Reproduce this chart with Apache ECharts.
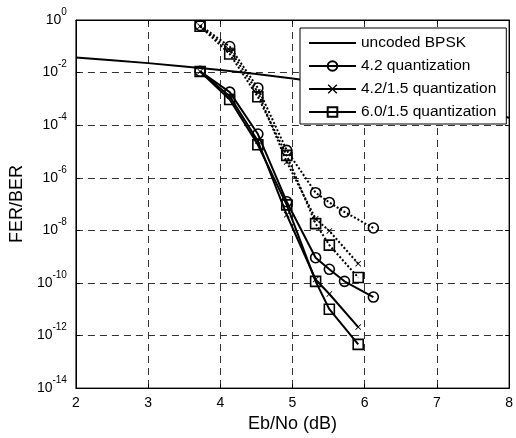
<!DOCTYPE html>
<html>
<head>
<meta charset="utf-8">
<script src="https://cdn.jsdelivr.net/npm/echarts@6/dist/echarts.min.js"></script>
<style>
html,body{margin:0;padding:0;background:#fff;}
#chart{width:516px;height:438px;}
</style>
</head>
<body>
<div id="chart"></div>
<script>
// ---- data ----
const xTicks = [2, 3, 4, 5, 6, 7, 8];
const yTickExps = [0, -2, -4, -6, -8, -10, -12, -14];

const bpskEbNo = [2, 2.5, 3, 3.5, 4, 4.5, 5, 5.5, 6, 6.5, 7, 7.5, 8];
const bpskBer  = [3.75e-2, 2.95e-2, 2.29e-2, 1.72e-2, 1.25e-2, 8.8e-3, 5.95e-3, 3.88e-3, 2.39e-3, 1.39e-3, 7.7e-4, 4.0e-4, 1.9e-4];

const ebnoLong  = [3.72, 4.13, 4.52, 4.92, 5.32, 5.51, 5.72, 6.12];
const ebnoShort = [3.72, 4.13, 4.52, 4.92, 5.32, 5.51, 5.91];

// FER (dotted)
const fer42   = [6.2e-1, 9.8e-2, 2.6e-3, 1.1e-5, 2.7e-7, 1.15e-7, 5.0e-8, 1.23e-8];
const fer4215 = [5.8e-1, 7.2e-2, 1.8e-3, 4.0e-6, 2.75e-8, 9.5e-9, 5.4e-10];
const fer6015 = [5.8e-1, 5.1e-2, 1.2e-3, 7.1e-6, 1.8e-8, 2.75e-9, 1.6e-10];

// BER (solid)
const ber42   = [1.12e-2, 1.8e-3, 4.6e-5, 1.23e-7, 9.1e-10, 3.3e-10, 1.15e-10, 2.9e-11];
const ber4215 = [1.1e-2, 1.26e-3, 2.5e-5, 3.9e-8, 1.35e-10, 3.8e-11, 2.1e-12];
const ber6015 = [1.1e-2, 9.5e-4, 1.8e-5, 9.3e-8, 1.15e-10, 1.0e-11, 4.6e-13];

const names = ['uncoded BPSK', '4.2 quantization', '4.2/1.5 quantization', '6.0/1.5 quantization'];

// ---- build ----
const zip = (xs, ys) => xs.map((x, i) => [x, ys[i]]);
const FONT = 'Liberation Sans, Arial, sans-serif';
const crossPath = 'path://M0,1 L1,0 L5,4 L9,0 L10,1 L6,5 L10,9 L9,10 L5,6 L1,10 L0,9 L4,5 Z';

function mk(name, xs, ys, symbol, size, dotted, filled) {
  return {
    name: name,
    type: 'line',
    data: zip(xs, ys),
    symbol: symbol,
    symbolSize: size,
    showSymbol: true,
    animation: false,
    lineStyle: { color: '#000', width: 2, type: dotted ? [2, 2] : 'solid' },
    itemStyle: filled
      ? { color: '#000', borderWidth: 0 }
      : { color: 'rgba(0,0,0,0)', borderColor: '#000', borderWidth: 1.6 },
    emphasis: { disabled: true },
    z: 3
  };
}

const series = [
  {
    name: names[0], type: 'line', data: zip(bpskEbNo, bpskBer),
    symbol: 'none', animation: false,
    lineStyle: { color: '#000', width: 2 }, itemStyle: { color: '#000' },
    emphasis: { disabled: true }, z: 2
  },
  mk(names[1], ebnoLong, ber42, 'circle', 10, false, false),
  mk(names[2], ebnoShort, ber4215, crossPath, 6, false, true),
  mk(names[3], ebnoShort, ber6015, 'rect', 10, false, false),
  mk(names[1], ebnoLong, fer42, 'circle', 10, true, false),
  mk(names[2], ebnoShort, fer4215, crossPath, 6, true, true),
  mk(names[3], ebnoShort, fer6015, 'rect', 10, true, false)
];

const gridDash = { show: true, lineStyle: { color: '#333', width: 1, type: [7, 5] } };

const option = {
  backgroundColor: '#fff',
  animation: false,
  textStyle: { fontFamily: FONT },
  grid: { left: 72, right: 2, top: 20, bottom: 46, show: true, borderColor: '#000', borderWidth: 1, backgroundColor: '#fff' },
  legend: {
    data: [
      { name: names[0], itemStyle: { opacity: 0 } },
      names[1], names[2], names[3]
    ],
    orient: 'vertical',
    left: 300, top: 28,
    padding: [7, 10, 4, 8],
    itemGap: 7,
    itemWidth: 47,
    itemHeight: 12,
    backgroundColor: '#fff',
    borderColor: '#000',
    borderWidth: 1,
    borderRadius: 0,
    textStyle: { fontFamily: FONT, fontSize: 15.5, color: '#000' },
    selectedMode: false
  },
  xAxis: [{
    type: 'value', min: 2, max: 8, interval: 1,
    name: 'Eb/No (dB)', nameLocation: 'middle', nameGap: 24,
    nameTextStyle: { fontFamily: FONT, fontSize: 18, color: '#000' },
    axisLine: { show: true, lineStyle: { color: '#000', width: 1 } },
    axisTick: { show: true, inside: true, length: 4, lineStyle: { color: '#000' } },
    axisLabel: { fontFamily: FONT, fontSize: 14, color: '#000', margin: 8,
      formatter: v => xTicks.indexOf(v) >= 0 ? String(v) : '' },
    splitLine: gridDash
  }, {
    type: 'value', min: 2, max: 8, interval: 1, position: 'top',
    axisLine: { show: true, lineStyle: { color: '#000' } },
    axisTick: { show: true, inside: true, length: 4, lineStyle: { color: '#000' } },
    axisLabel: { show: false }, splitLine: { show: false }
  }],
  yAxis: [{
    type: 'log', logBase: 10, min: 1e-14, max: 1, interval: 2,
    name: 'FER/BER', nameLocation: 'middle', nameGap: 48,
    nameTextStyle: { fontFamily: FONT, fontSize: 18, color: '#000' },
    axisLine: { show: true, lineStyle: { color: '#000', width: 1 } },
    axisTick: { show: true, inside: true, length: 4, lineStyle: { color: '#000' } },
    axisLabel: {
      fontFamily: FONT, color: '#000', margin: 9,
      formatter: function (v) {
        const e = Math.round(Math.log10(v));
        if (yTickExps.indexOf(e) < 0) return '';
        return '{b|10}{s|' + e + '}';
      },
      rich: {
        b: { fontFamily: FONT, fontSize: 14, color: '#000' },
        s: { fontFamily: FONT, fontSize: 10, color: '#000', padding: [0, 0, 16, 0] }
      }
    },
    splitLine: gridDash
  }, {
    type: 'log', logBase: 10, min: 1e-14, max: 1, interval: 2, position: 'right',
    axisLine: { show: true, lineStyle: { color: '#000' } },
    axisTick: { show: true, inside: true, length: 4, lineStyle: { color: '#000' } },
    axisLabel: { show: false }, splitLine: { show: false }
  }],
  series: series
};

const chart = echarts.init(document.getElementById('chart'), null, { renderer: 'canvas' });
chart.setOption(option);
</script>
</body>
</html>
